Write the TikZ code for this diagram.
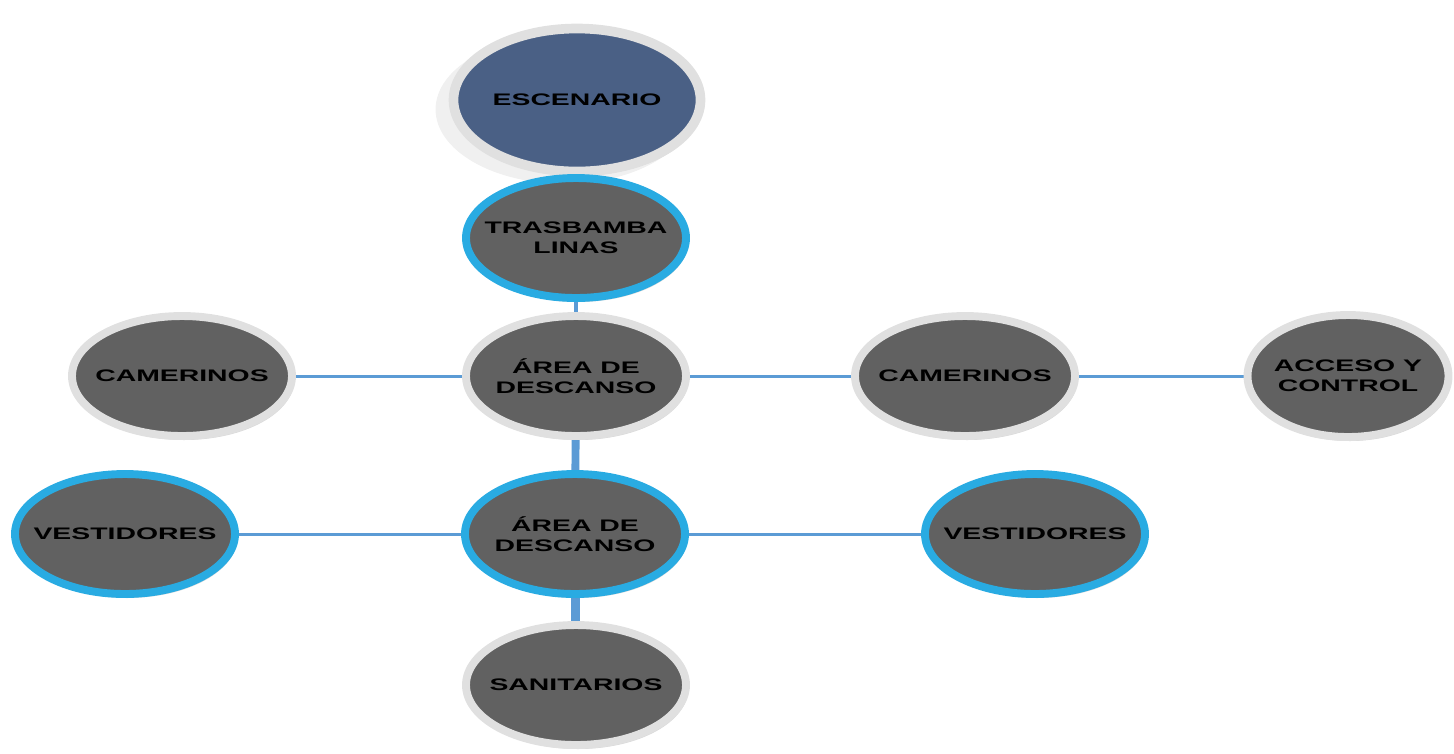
\documentclass[tikz,border=0pt]{standalone}
\usepackage{fontspec}
\setmainfont{Liberation Sans}[FakeStretch=1.7]
\usepackage{tikz}
\usetikzlibrary{positioning,shapes.geometric,backgrounds,shadows}

\definecolor{zonefill}{HTML}{616161}
\definecolor{stagefill}{HTML}{4A6085}
\definecolor{ringgray}{HTML}{E0E0E0}
\definecolor{ringblue}{HTML}{29ABE2}
\definecolor{linkblue}{HTML}{5B9BD5}

\begin{document}
\begin{tikzpicture}[
    every node/.style={ellipse,fill=zonefill,draw=ringgray,line width=4.5pt,
        minimum width=4.4cm,minimum height=2.4cm,inner xsep=-0.9cm,inner ysep=0pt,align=center,
        font=\fontsize{9.5}{11.5}\selectfont\bfseries,
        drop shadow={opacity=0.3,shadow xshift=0.04cm,shadow yshift=-0.08cm}},
    bluering/.style={draw=ringblue},
    link/.style={draw=linkblue,line width=1.7pt}
]
\useasboundingbox (0,0) rectangle (29.08,-15.06);

\node (esc) [fill=stagefill,line width=5.5pt,minimum width=4.94cm,minimum height=2.86cm,
    drop shadow={opacity=0.12,shadow xshift=-0.25cm,shadow yshift=-0.18cm,shadow scale=1.04}]
    at (11.54,-2.00) {ESCENARIO};

\node (tras) [bluering] at (11.52,-4.76) {TRASBAMBA\\LINAS};

\node (area1) at (11.52,-7.52) {ÁREA DE\\DESCANSO};
\node (camL) at (3.64,-7.52) {CAMERINOS};
\node (camR) at (19.30,-7.52) {CAMERINOS};
\node (acc) [minimum width=4.02cm,minimum height=2.44cm] at (26.96,-7.52) {ACCESO Y\\CONTROL};

\node (area2) [bluering] at (11.50,-10.68) {ÁREA DE\\DESCANSO};
\node (vesL) [bluering] at (2.50,-10.68) {VESTIDORES};
\node (vesR) [bluering] at (20.70,-10.68) {VESTIDORES};

\node (san) at (11.52,-13.70) {SANITARIOS};

\begin{pgfonlayer}{background}
\draw[link,line width=4pt] (esc) -- (tras);
\draw[link,line width=2.3pt] (tras) -- (area1);
\draw[link,line width=4.5pt] (area1) -- (area2);
\draw[link,line width=5pt] (area2) -- (san);

\draw[link] (camL) -- (area1);
\draw[link] (area1) -- (camR);
\draw[link] (camR) -- (acc);

\draw[link] (vesL) -- (area2);
\draw[link] (area2) -- (vesR);
\end{pgfonlayer}

\end{tikzpicture}
\end{document}
